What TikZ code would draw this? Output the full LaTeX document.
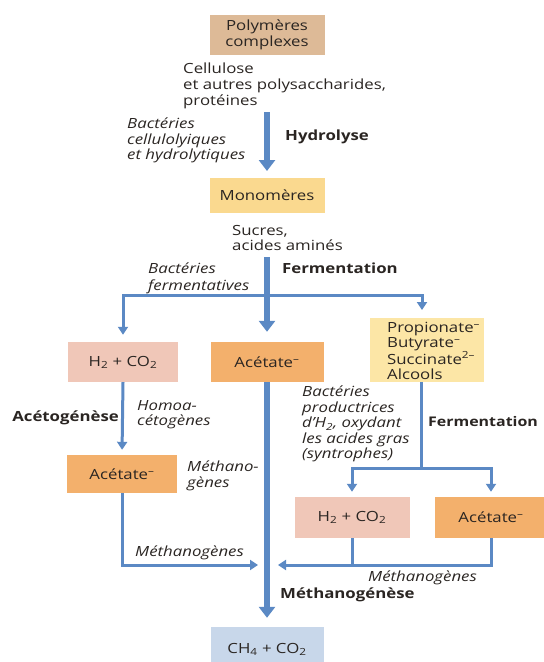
\documentclass[tikz,border=0pt]{standalone}
\usepackage{fontspec}
\setmainfont{Open Sans}[FakeStretch=1.2]
\usetikzlibrary{arrows.meta}

\definecolor{flow}{HTML}{5B89C4}
\definecolor{ink}{HTML}{2A2522}
\definecolor{tanbox}{HTML}{DDBA97}
\definecolor{monobox}{HTML}{FAD98F}
\definecolor{gasbox}{HTML}{F0C7B8}
\definecolor{acetbox}{HTML}{F3B06C}
\definecolor{acidbox}{HTML}{FCE6A6}
\definecolor{prodbox}{HTML}{C8D7EA}

\newcommand{\minus}{\textsuperscript{--}}

\begin{document}
\begin{tikzpicture}[x=1pt,y=-1pt,
  box/.style={inner sep=0pt, align=center, text=ink,
              font=\fontsize{14}{16}\selectfont},
  lab/.style={inner sep=0pt, anchor=north west, align=left, text=ink,
              font=\fontsize{14}{16}\selectfont},
  ital/.style={lab, font=\fontsize{14}{15.5}\selectfont\itshape},
  bold/.style={lab, font=\fontsize{14}{16}\selectfont\bfseries},
  big/.style={draw=flow, line width=6pt, -{Triangle[width=16pt,length=11pt]}},
  thin/.style={draw=flow, line width=3pt, -{Triangle[width=10pt,length=8pt]}},
  link/.style={draw=flow, line width=3pt}]

\useasboundingbox (0,0) rectangle (544,662);

% ---- boxes ----
\node[box, fill=tanbox, minimum width=115pt, minimum height=40pt] (poly) at (267,35) {Polymères\\complexes};
\node[box, fill=monobox, minimum width=115pt, minimum height=35pt] (mono) at (267,195) {Monomères};
\node[box, fill=gasbox, minimum width=110pt, minimum height=40pt] (h2a) at (123,362) {H\textsubscript{2} + CO\textsubscript{2}};
\node[box, fill=acetbox, minimum width=113pt, minimum height=40pt] (aceA) at (267,362) {Acétate\minus};
\node[box, fill=acidbox, minimum width=114pt, minimum height=64pt] (prop) at (427,350) {};
\node[lab, font=\fontsize{14}{15}\selectfont] (proptxt) at (387,322) {Propionate\minus\\Butyrate\minus\\Succinate\textsuperscript{2--}\\Alcools};
\node[box, fill=acetbox, minimum width=110pt, minimum height=38pt] (aceL) at (122,474) {Acétate\minus};
\node[box, fill=gasbox, minimum width=115pt, minimum height=41pt] (h2b) at (352,517.5) {H\textsubscript{2} + CO\textsubscript{2}};
\node[box, fill=acetbox, minimum width=112pt, minimum height=41pt] (aceR) at (491,517.5) {Acétate\minus};
\node[box, fill=prodbox, minimum width=113pt, minimum height=45pt] (ch4) at (267,649.5) {CH\textsubscript{4} + CO\textsubscript{2}};

% ---- labels ----
\node[lab] (cell) at (183,63) {Cellulose\\et autres polysaccharides,\\protéines};
\node[ital] (bact1) at (127,118) {Bactéries\\cellulolyiques\\et hydrolytiques};
\node[bold] (hydro) at (285,130) {Hydrolyse};
\node[lab, font=\fontsize{14}{15}\selectfont] (sucres) at (232,225) {Sucres,\\acides aminés};
\node[ital, font=\fontsize{14}{17}\selectfont\itshape] (bact2) at (148,263) {Bactéries\\fermentatives};
\node[bold] (ferm1) at (282,263) {Fermentation};
\node[bold, anchor=north east] (acetog) at (119,411) {Acétogénèse};
\node[ital] (homo) at (137,400) {Homoa-\\cétogènes};
\node[ital] (meth1) at (187,461) {Méthano-\\gènes};
\node[ital] (bact3) at (302,386) {Bactéries\\productrices\\d’H\textsubscript{2}, oxydant\\les acides gras\\(syntrophes)};
\node[bold, font=\fontsize{13.3}{16}\selectfont\bfseries] (ferm2) at (428,416.5) {Fermentation};
\node[ital] (meth2) at (135,546) {Méthanogènes};
\node[ital] (meth3) at (368,571) {Méthanogènes};
\node[bold] (methgen) at (280,588) {Méthanogénèse};

% ---- connectors ----
\coordinate (hyd0) at (267,112);
\coordinate (hyd1) at (267,171);
\draw[big] (hyd0) -- (hyd1);

\coordinate (fer0) at (267,257);
\coordinate (fork) at (267,295);
\coordinate (propin) at (422,318);
\draw[thin, shorten >=7pt] (fork) -| (h2a.north);
\draw[thin, shorten >=8pt] (fork) -| (propin);
\draw[big, shorten >=10pt] (fer0) -- (aceA.north);

\draw[thin, shorten >=5pt] (h2a.south) -- (aceL.north);
\draw[big, shorten >=9pt] (aceA.south) -- (ch4.north);

\coordinate (mL) at (258,565);
\draw[thin] (aceL.south) |- (mL);

\coordinate (propout) at (421,382);
\coordinate (fork2) at (421,468);
\draw[link] (propout) -- (fork2);
\draw[thin, shorten >=5pt] (fork2) -| (h2b.north);
\draw[thin, shorten >=5pt] (fork2) -| (aceR.north);

\coordinate (mR) at (278,565);
\draw[thin] (aceR.south) |- (mR);
\draw[link] (h2b.south) -- (h2b.south |- mR);

\end{tikzpicture}
\end{document}
